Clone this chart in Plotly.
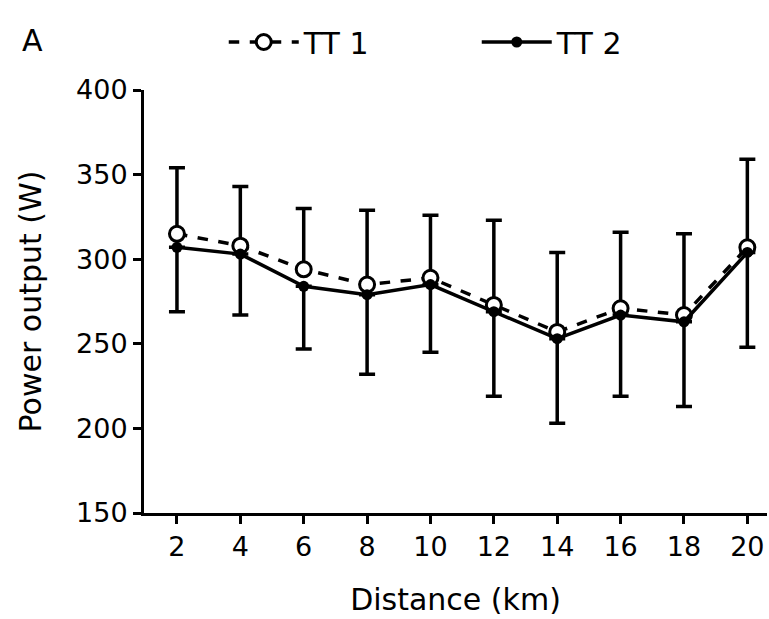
import plotly.graph_objects as go

distance_km = [2, 4, 6, 8, 10, 12, 14, 16, 18, 20]
tt1_power = [315, 308, 294, 285, 289, 273, 257, 271, 267, 307]
tt2_power = [307, 303, 284, 279, 285, 269, 253, 267, 263, 304]
tt1_err_up = [39, 35, 36, 44, 37, 50, 47, 45, 48, 52]
tt2_err_down = [38, 36, 37, 47, 40, 50, 50, 48, 50, 56]
y_ticks = [150, 200, 250, 300, 350, 400]

FONT = "DejaVu Sans"

fig = go.Figure()

fig.add_trace(go.Scatter(
    x=distance_km, y=tt1_power, name="TT 1", mode="lines+markers",
    line=dict(color="black", width=3.5, dash="dash"),
    marker=dict(symbol="circle", size=15, color="white",
                line=dict(color="black", width=3)),
    error_y=dict(type="data", array=tt1_err_up,
                 arrayminus=[0] * len(tt1_err_up), symmetric=False,
                 color="black", thickness=3.5, width=8),
))
fig.add_trace(go.Scatter(
    x=distance_km, y=tt2_power, name="TT 2", mode="lines+markers",
    line=dict(color="black", width=3.5),
    marker=dict(symbol="circle", size=11, color="black"),
    error_y=dict(type="data", array=[0] * len(tt2_err_down),
                 arrayminus=tt2_err_down, symmetric=False,
                 color="black", thickness=3.5, width=8),
))

fig.update_layout(
    width=769, height=619,
    paper_bgcolor="white", plot_bgcolor="white",
    margin=dict(l=144, r=2, t=90, b=106),
    font=dict(family=FONT, color="black"),
    showlegend=True,
    legend=dict(orientation="h", x=0.128, xanchor="left",
                y=1 + 48 / 423, yanchor="middle", yref="paper",
                font=dict(size=30, family=FONT),
                entrywidth=168, itemwidth=70,
                bgcolor="rgba(0,0,0,0)"),
    xaxis=dict(
        range=[0.96, 20.62], tickvals=distance_km,
        showline=True, linecolor="black", linewidth=3,
        ticks="outside", ticklen=8, tickwidth=3, tickcolor="black",
        tickfont=dict(size=27, family=FONT),
        showgrid=False, zeroline=False,
        title=dict(text="Distance (km)", font=dict(size=30, family=FONT),
                   standoff=28),
    ),
    yaxis=dict(
        range=[150, 400], tickvals=y_ticks,
        showline=True, linecolor="black", linewidth=3,
        ticks="outside", ticklen=8, tickwidth=3, tickcolor="black",
        tickfont=dict(size=27, family=FONT),
        showgrid=False, zeroline=False,
        title=dict(text="Power output (W)", font=dict(size=30, family=FONT),
                   standoff=26),
    ),
    annotations=[dict(text="A", xref="paper", yref="paper",
                      x=-(144 - 20) / 623, y=1 + 50 / 423,
                      xanchor="left", yanchor="middle", showarrow=False,
                      font=dict(size=30, family=FONT))],
)

fig.write_html("out.html", config={"displayModeBar": False},
               post_script="document.body.style.margin='0';")
